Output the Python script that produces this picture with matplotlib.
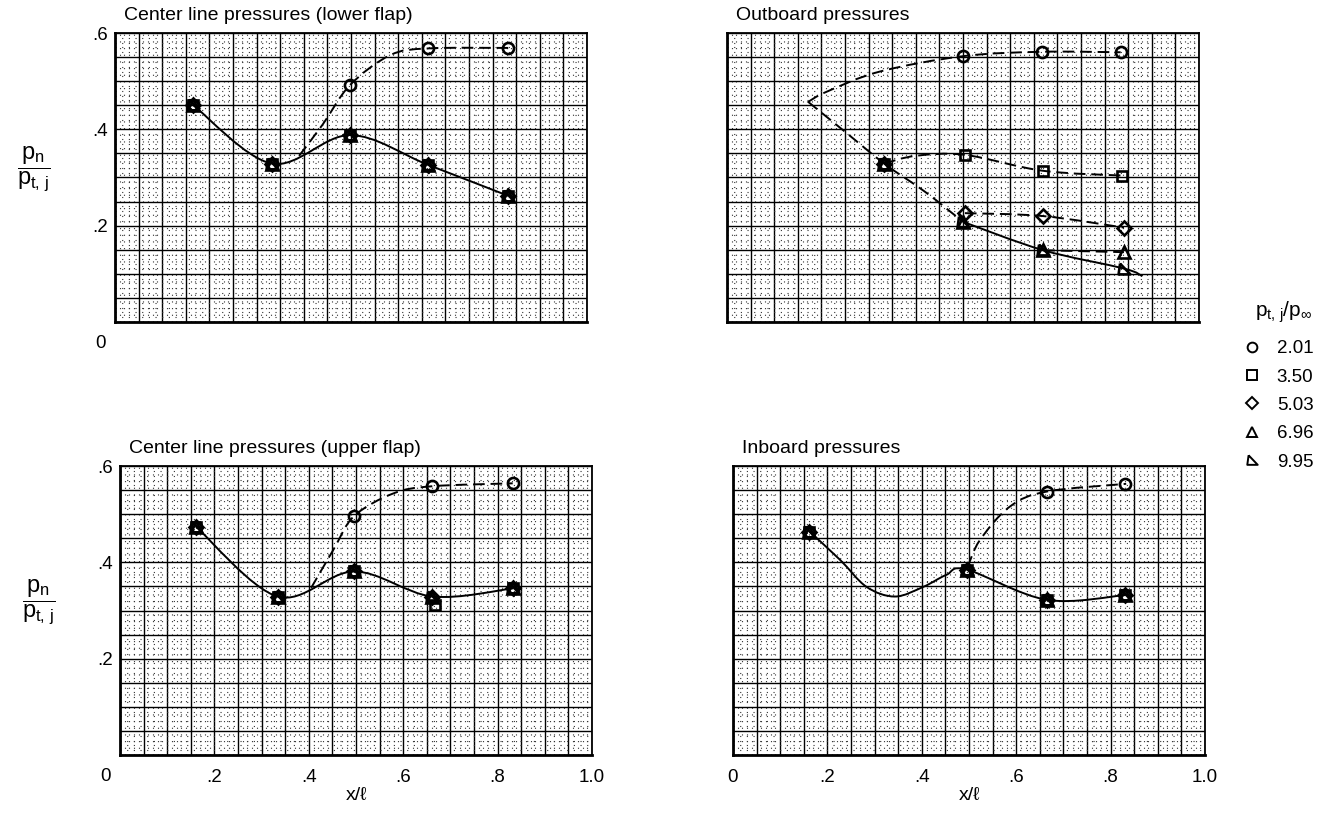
import numpy as np
import matplotlib.pyplot as plt
from matplotlib.path import Path
from matplotlib.patches import PathPatch
from matplotlib.lines import Line2D
from matplotlib.ticker import FuncFormatter

plt.rcParams['font.family'] = ['Liberation Sans Narrow', 'Liberation Sans', 'DejaVu Sans']
plt.rcParams['mathtext.fontset'] = 'custom'
plt.rcParams['mathtext.rm'] = 'Liberation Sans'
plt.rcParams['mathtext.it'] = 'Liberation Sans'
plt.rcParams['mathtext.bf'] = 'Liberation Sans:bold'

ratios = ['2.01', '3.50', '5.03', '6.96', '9.95']

# center line pressures (lower flap)
tl_x = [0.166, 0.332, 0.498, 0.664, 0.833]
tl_y_201 = [0.450, 0.329, 0.492, 0.568, 0.569]
tl_y_high = [0.450, 0.329, 0.388, 0.326, 0.262]   # 3.50 .. 9.95 fall together
tl_dash_x = [0.390, 0.440, 0.498, 0.583, 0.664, 0.833]
tl_dash_y = [0.345, 0.410, 0.492, 0.554, 0.568, 0.569]

# outboard pressures
tr_x_201 = [0.501, 0.667, 0.834]
tr_y_201 = [0.552, 0.561, 0.560]
tr_x_350 = [0.333, 0.504, 0.669, 0.836]
tr_y_350 = [0.329, 0.347, 0.314, 0.304]
tr_x_503 = [0.333, 0.504, 0.669, 0.841]
tr_y_503 = [0.329, 0.226, 0.220, 0.196]
tr_x_696 = [0.333, 0.500, 0.670, 0.841]
tr_y_696 = [0.329, 0.208, 0.149, 0.145]
tr_x_995 = [0.333, 0.500, 0.670, 0.841]
tr_y_995 = [0.329, 0.208, 0.149, 0.111]
tr_upper_x = [0.172, 0.211, 0.324, 0.501, 0.667, 0.834]
tr_upper_y = [0.457, 0.478, 0.520, 0.552, 0.561, 0.560]
tr_lower_x = [0.172, 0.250, 0.333, 0.420, 0.500]
tr_lower_y = [0.457, 0.395, 0.329, 0.270, 0.208]
tr_350_x = [0.333, 0.400, 0.504, 0.669, 0.836]
tr_350_y = [0.329, 0.345, 0.347, 0.314, 0.304]
tr_tail_x = [0.500, 0.670, 0.841, 0.880]
tr_tail_y = [0.208, 0.149, 0.111, 0.095]

# center line pressures (upper flap)
bl_x = [0.161, 0.334, 0.496, 0.662, 0.833]
bl_y_201 = [0.474, 0.329, 0.496, 0.558, 0.564]
bl_y_high = [0.474, 0.329, 0.381, 0.329, 0.346]
bl_x_350 = [0.161, 0.334, 0.496, 0.667, 0.833]
bl_y_350 = [0.474, 0.329, 0.381, 0.311, 0.346]
bl_dash_x = [0.405, 0.452, 0.496, 0.579, 0.662, 0.832]
bl_dash_y = [0.347, 0.426, 0.496, 0.543, 0.558, 0.564]

# inboard pressures
br_x = [0.162, 0.495, 0.665, 0.831]
br_y_201 = [0.464, 0.385, 0.547, 0.563]
br_y_high = [0.464, 0.385, 0.322, 0.332]
br_solid_x = [0.162, 0.227, 0.283, 0.343, 0.403, 0.452, 0.495, 0.665, 0.831]
br_solid_y = [0.464, 0.405, 0.349, 0.329, 0.349, 0.374, 0.385, 0.322, 0.332]
br_dash_x = [0.497, 0.523, 0.587, 0.665, 0.833]
br_dash_y = [0.390, 0.446, 0.516, 0.547, 0.563]

flag_tri = [(-0.45, 0.6), (-0.6, -0.5), (0.6, -0.5), (-0.45, 0.6)]
markers = ['o', 's', 'D', '^', flag_tri]
msizes = [8, 7.5, 7, 8.5, 8.5]
DASH = (0, (6, 3))

W, H = 1327, 822
fig = plt.figure(figsize=(W / 100, H / 100), dpi=100)


def fmt(v, pos):
    if v > 0.01 and abs(v / 0.2 - round(v / 0.2)) < 1e-6:
        return f'{v:.1f}'.lstrip('0') if v < 0.99 else f'{v:.1f}'
    return ''


def make_ax(left, bottom, title, ylab, xlab, zero_x):
    ax = fig.add_axes([left / W, 1 - bottom / H, 472 / W, 289 / H])
    ax.set_xlim(0, 1.0)
    ax.set_ylim(0, 0.6)
    ax.set_xticks(np.arange(0, 1.0001, 0.05))
    ax.set_yticks(np.arange(0, 0.6001, 0.05))
    ax.set_xticks(np.arange(0, 1.0001, 0.01), minor=True)
    ax.set_yticks(np.arange(0, 0.6001, 0.01), minor=True)
    ax.grid(which='major', color='k', lw=1.0)
    ax.grid(which='minor', color='#333333', lw=0.8, ls=(0, (1, 5)))
    ax.tick_params(which='both', length=0, labelsize=13.5)
    ax.tick_params(axis='x', pad=10)
    ax.tick_params(axis='y', pad=5)
    ax.yaxis.set_major_formatter(FuncFormatter(fmt) if ylab else FuncFormatter(lambda v, p: ''))
    if xlab:
        if zero_x:
            ax.xaxis.set_major_formatter(FuncFormatter(lambda v, p: '0' if abs(v) < 1e-6 else fmt(v, p)))
        else:
            ax.xaxis.set_major_formatter(FuncFormatter(fmt))
        ax.set_xlabel('x/ℓ', fontsize=14, labelpad=1)
    else:
        ax.xaxis.set_major_formatter(FuncFormatter(lambda v, p: ''))
    if ylab:
        ax.text(-0.03, -0.076, '0', transform=ax.transAxes, ha='center', va='center', fontsize=13.5)
        ax.text(-0.172, 0.53, r'$\dfrac{p_n}{p_{t,\,j}}$', transform=ax.transAxes,
                ha='center', va='center', fontsize=17)
    for s in ['left', 'bottom']:
        ax.spines[s].set_linewidth(2.0)
    for s in ['top', 'right']:
        ax.spines[s].set_linewidth(1.3)
    ax.set_axisbelow(True)
    ax.text(0.02, 1.03, title, transform=ax.transAxes, ha='left', va='bottom', fontsize=14)
    return ax


def smooth(ax, xs, ys, ls='-'):
    p = np.column_stack([xs, ys])
    ext = np.vstack([p[0], p, p[-1]])
    verts = [p[0]]
    codes = [Path.MOVETO]
    for i in range(1, len(ext) - 2):
        p0, p1, p2, p3 = ext[i - 1], ext[i], ext[i + 1], ext[i + 2]
        verts += [p1 + (p2 - p0) / 6, p2 - (p3 - p1) / 6, p2]
        codes += [Path.CURVE4] * 3
    ax.add_patch(PathPatch(Path(verts, codes), fill=False, lw=1.4, ls=ls,
                           ec='k', capstyle='butt', zorder=3))


def pts(ax, k, xs, ys):
    ax.plot(xs, ys, ls='none', marker=markers[k], ms=msizes[k], mfc='none',
            mec='k', mew=1.9, zorder=4)


ax_tl = make_ax(115, 322, 'Center line pressures (lower flap)', True, False, False)
ax_tr = make_ax(727, 322, 'Outboard pressures', False, False, False)
ax_bl = make_ax(120, 755, 'Center line pressures (upper flap)', True, True, False)
ax_br = make_ax(733, 755, 'Inboard pressures', False, True, True)

# lower flap
smooth(ax_tl, tl_x, tl_y_high)
smooth(ax_tl, tl_dash_x, tl_dash_y, DASH)
pts(ax_tl, 0, tl_x, tl_y_201)
for k in range(1, 5):
    pts(ax_tl, k, tl_x, tl_y_high)

# outboard
smooth(ax_tr, tr_upper_x, tr_upper_y, DASH)
smooth(ax_tr, tr_lower_x, tr_lower_y, DASH)
smooth(ax_tr, tr_350_x, tr_350_y, DASH)
smooth(ax_tr, tr_x_503[1:], tr_y_503[1:], DASH)
smooth(ax_tr, tr_x_696[2:], tr_y_696[2:], DASH)
smooth(ax_tr, tr_tail_x, tr_tail_y)
pts(ax_tr, 0, tr_x_201, tr_y_201)
pts(ax_tr, 1, tr_x_350, tr_y_350)
pts(ax_tr, 2, tr_x_503, tr_y_503)
pts(ax_tr, 3, tr_x_696, tr_y_696)
pts(ax_tr, 4, tr_x_995, tr_y_995)

# upper flap
smooth(ax_bl, bl_x, bl_y_high)
smooth(ax_bl, bl_dash_x, bl_dash_y, DASH)
pts(ax_bl, 0, bl_x, bl_y_201)
pts(ax_bl, 1, bl_x_350, bl_y_350)
for k in range(2, 5):
    pts(ax_bl, k, bl_x, bl_y_high)

# inboard
smooth(ax_br, br_solid_x, br_solid_y)
smooth(ax_br, br_dash_x, br_dash_y, DASH)
pts(ax_br, 0, br_x, br_y_201)
for k in range(1, 5):
    pts(ax_br, k, br_x, br_y_high)

# legend: title set apart as in the original
fig.text(1284 / W, 1 - 312 / H, r'$p_{t,\,j}/p_{\infty}$', ha='center', va='center', fontsize=15)
handles = [Line2D([], [], ls='none', marker=markers[k], ms=msizes[k] - 1, mfc='none',
                  mec='k', mew=1.4) for k in range(5)]
fig.legend(handles, ratios, loc='upper left',
           bbox_to_anchor=(1243 / W, 1 - 340 / H), frameon=False, fontsize=13.5,
           handlelength=1.0, handletextpad=0.8, labelspacing=0.6,
           borderpad=0, borderaxespad=0)

fig.savefig('out.png', dpi=100)
